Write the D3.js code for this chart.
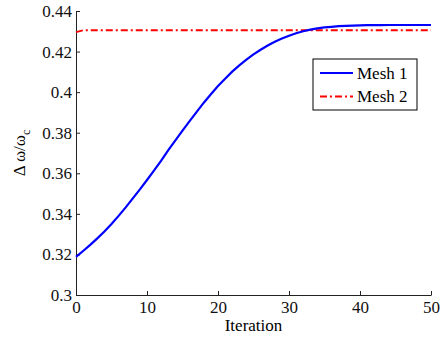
<!DOCTYPE html>
<html>
<head>
<meta charset="utf-8">
<script src="https://cdn.jsdelivr.net/npm/d3@7"></script>
<style>
  body { margin: 0; background: #fff; }
  svg { display: block; }
</style>
</head>
<body>
<script>
const FONT = "Liberation Serif";
const FS = 17;

// Iteration numbers shared by both series
const iterations = d3.range(0, 51);

// Mesh 1, one value per iteration
const mesh1 = [
  0.3188, 0.3217, 0.3247, 0.3279, 0.3313, 0.3350, 0.3390, 0.3432, 0.3476, 0.3521,
  0.3567, 0.3614, 0.3662, 0.3714, 0.3762, 0.3810, 0.3857, 0.3903, 0.3948, 0.3990,
  0.4030, 0.4066, 0.4101, 0.4132, 0.4160, 0.4186, 0.4209, 0.4230, 0.4248, 0.4264,
  0.4278, 0.4290, 0.4300, 0.4308, 0.4314, 0.4319, 0.4322, 0.4325, 0.4327, 0.4328,
  0.4329, 0.4330, 0.4330, 0.4330, 0.4331, 0.4331, 0.4331, 0.4331, 0.4331, 0.4331,
  0.4331
];

// Mesh 2: red dash-dot line, nearly flat
const mesh2 = [
  0.4296, 0.4305, 0.4305, 0.4305, 0.4305, 0.4305, 0.4305, 0.4305, 0.4305, 0.4305,
  0.4305, 0.4305, 0.4305, 0.4305, 0.4305, 0.4305, 0.4305, 0.4305, 0.4305, 0.4305,
  0.4305, 0.4305, 0.4305, 0.4305, 0.4305, 0.4305, 0.4305, 0.4305, 0.4305, 0.4305,
  0.4305, 0.4305, 0.4305, 0.4305, 0.4305, 0.4305, 0.4305, 0.4305, 0.4305, 0.4305,
  0.4305, 0.4305, 0.4305, 0.4305, 0.4305, 0.4305, 0.4305, 0.4305, 0.4305, 0.4305,
  0.4305
];

const xTicks = [0, 10, 20, 30, 40, 50];
const yTicks = [0.3, 0.32, 0.34, 0.36, 0.38, 0.4, 0.42, 0.44];
const seriesNames = ["Mesh 1", "Mesh 2"];

const width = 442, height = 343;
const margin = { top: 11, right: 11, bottom: 48, left: 76 };
const innerWidth = width - margin.left - margin.right;
const innerHeight = height - margin.top - margin.bottom;

const svg = d3.select("body").append("svg")
  .attr("width", width).attr("height", height);
const plot = svg.append("g").attr("transform", `translate(${margin.left},${margin.top})`);

const x = d3.scaleLinear().domain([0, 50]).range([0, innerWidth]);
const y = d3.scaleLinear().domain([0.3, 0.44]).range([innerHeight, 0]);

// Axes with inward ticks, MATLAB style
const xAxis = d3.axisBottom(x).tickValues(xTicks).tickSizeInner(-4).tickSizeOuter(0).tickPadding(6)
  .tickFormat(d3.format("d"));
const yAxis = d3.axisLeft(y).tickValues(yTicks).tickSizeInner(-4).tickSizeOuter(0).tickPadding(4)
  .tickFormat(d => String(+d.toFixed(2)));

const gx = plot.append("g").attr("transform", `translate(0,${innerHeight})`).call(xAxis);
const gy = plot.append("g").call(yAxis);
[gx, gy].forEach(g => {
  g.attr("font-family", FONT).attr("font-size", FS);
  g.selectAll("path, line").attr("stroke", "#222");
  g.selectAll("text").attr("fill", "#111");
});

const line = d3.line().x((d, i) => x(iterations[i])).y(d => y(d));

plot.append("path").datum(mesh2)
  .attr("fill", "none").attr("stroke", "#ff0000").attr("stroke-width", 2)
  .attr("stroke-dasharray", "7,3,2,3")
  .attr("d", line);

plot.append("path").datum(mesh1)
  .attr("fill", "none").attr("stroke", "#0000ff").attr("stroke-width", 2.2)
  .attr("d", line);

// Axis labels
svg.append("text")
  .attr("x", margin.left + innerWidth / 2).attr("y", 331)
  .attr("text-anchor", "middle").attr("font-size", FS).attr("font-family", FONT)
  .text("Iteration");

const yl = svg.append("text")
  .attr("transform", `translate(25,${margin.top + innerHeight / 2}) rotate(-90)`)
  .attr("text-anchor", "middle").attr("font-size", FS).attr("font-family", FONT);
yl.append("tspan").text("Δ ω/ω");
yl.append("tspan").attr("font-size", 12).attr("dy", 5).text("c");

// Legend
const legend = svg.append("g").attr("transform", "translate(313,59)");
legend.append("rect").attr("width", 104).attr("height", 51)
  .attr("fill", "#fff").attr("stroke", "#000").attr("stroke-width", 1);
const styles = [
  { color: "#0000ff", dash: null },
  { color: "#ff0000", dash: "7,3,2,3" }
];
seriesNames.forEach((name, i) => {
  const yy = 14 + i * 23.5;
  legend.append("line").attr("x1", 7).attr("x2", 40).attr("y1", yy).attr("y2", yy)
    .attr("stroke", styles[i].color).attr("stroke-width", 2)
    .attr("stroke-dasharray", styles[i].dash);
  legend.append("text").attr("x", 44).attr("y", yy + 5.5)
    .attr("font-size", FS).attr("font-family", FONT).text(name);
});
</script>
</body>
</html>
